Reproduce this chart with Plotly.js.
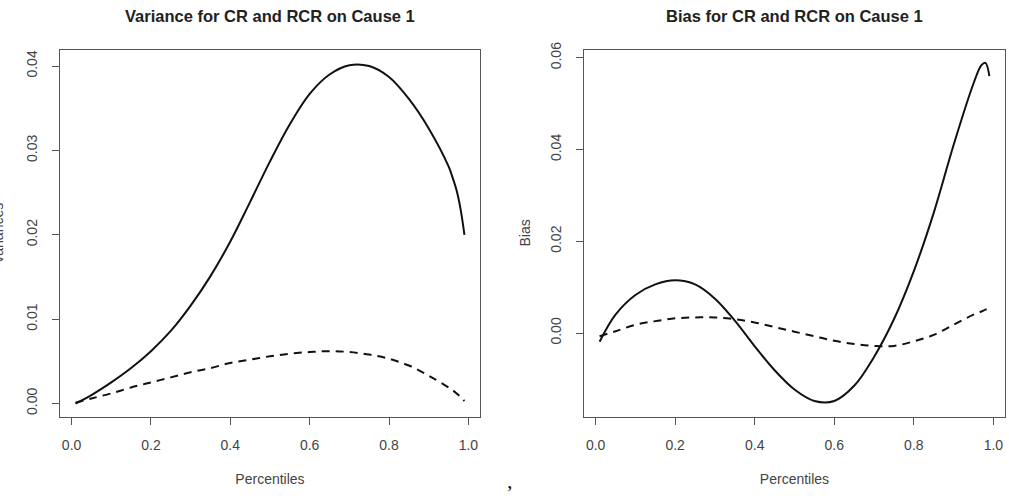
<!DOCTYPE html>
<html>
<head>
<meta charset="utf-8">
<script src="https://cdn.plot.ly/plotly-3.0.1.min.js"></script>
<style>html,body{margin:0;padding:0;background:#fff;}#chart{width:1009px;height:496px;}</style>
</head>
<body>
<div id="chart"></div>
<script>
// Variance panel
const varX   = [0.01,0.05,0.1,0.15,0.2,0.25,0.3,0.35,0.4,0.45,0.5,0.55,0.6,0.65,0.7,0.75,0.8,0.85,0.9,0.95,0.96,0.97,0.98,0.99];
const varCR  = [0.0000,0.0010,0.0025,0.0042,0.0062,0.0086,0.0116,0.0151,0.0192,0.0239,0.0287,0.0331,0.0367,0.0390,0.0401,0.0400,0.0387,0.0361,0.0326,0.0281,0.0268,0.0253,0.0231,0.0200];
const varRCR = [0.0001,0.0006,0.0012,0.0019,0.0025,0.0031,0.0037,0.0042,0.0048,0.0052,0.0056,0.0059,0.0061,0.0062,0.0061,0.0058,0.0053,0.0045,0.0033,0.0019,0.0016,0.0012,0.0008,0.0003];
// Bias panel
const biasX   = [0.01,0.05,0.1,0.15,0.2,0.25,0.3,0.35,0.4,0.45,0.5,0.55,0.6,0.65,0.7,0.75,0.8,0.85,0.9,0.95,0.97,0.98,0.99];
const biasCR  = [-0.0019,0.0040,0.0083,0.0106,0.0115,0.0106,0.0075,0.0027,-0.0029,-0.0081,-0.0123,-0.0148,-0.0148,-0.0115,-0.0052,0.0030,0.0135,0.0262,0.0410,0.0544,0.0584,0.0589,0.0560];
const biasRCR = [-0.0007,0.0004,0.0018,0.0026,0.0032,0.0034,0.0034,0.0030,0.0023,0.0013,0.0003,-0.0007,-0.0017,-0.0024,-0.0028,-0.0028,-0.0018,-0.0004,0.0018,0.0040,0.0047,0.0051,0.0054];

const xTickVals = [0,0.2,0.4,0.6,0.8,1.0];
const xTickText = ["0.0","0.2","0.4","0.6","0.8","1.0"];
const varTickVals = [0,0.01,0.02,0.03,0.04];
const varTickText = ["0.00","0.01","0.02","0.03","0.04"];
const biasTickVals = [0,0.02,0.04,0.06];
const biasTickText = ["0.00","0.02","0.04","0.06"];

const titles = ["Variance for CR and RCR on Cause 1","Bias for CR and RCR on Cause 1"];
const yTitles = ["Variances","Bias"];
const xTitle = "Percentiles";

const W = 1009, H = 496;
const FONT = '"Liberation Sans", Arial, Helvetica, sans-serif';
const solid = {color:'#111', width:2, shape:'spline', dash:'solid'};
const dashed = {color:'#111', width:2, shape:'spline', dash:'8px,6px'};

const traces = [
  {x:varX, y:varCR, mode:'lines', line:solid, xaxis:'x', yaxis:'y', name:'CR'},
  {x:varX, y:varRCR, mode:'lines', line:dashed, xaxis:'x', yaxis:'y', name:'RCR'},
  {x:biasX, y:biasCR, mode:'lines', line:solid, xaxis:'x2', yaxis:'y2', name:'CR'},
  {x:biasX, y:biasRCR, mode:'lines', line:dashed, xaxis:'x2', yaxis:'y2', name:'RCR'}
];

const yDom = [1-417/H, 1-50/H];
function xax(dom, anchor){
  return {domain:dom, anchor:anchor, range:[-0.0292,1.0292], tickvals:xTickVals, ticktext:xTickText,
    showline:true, mirror:true, linecolor:'#555', linewidth:1, ticks:'outside', ticklen:7, tickcolor:'#555',
    showgrid:false, zeroline:false, tickfont:{family:FONT,size:14,color:'#444'}, ticklabelstandoff:8,
    title:{text:xTitle, font:{family:FONT,size:14,color:'#444'}, standoff:22}};
}
function yax(anchor, range, tv, tt){
  return {domain:yDom, anchor:anchor, range:range, tickvals:tv, ticktext:tt, tickangle:-90,
    showline:true, mirror:true, linecolor:'#555', linewidth:1, ticks:'outside', ticklen:7, tickcolor:'#555',
    showgrid:false, zeroline:false, tickfont:{family:FONT,size:14,color:'#444'}, ticklabelstandoff:9};
}

const layout = {
  width:W, height:H, margin:{l:0,r:0,t:0,b:0}, showlegend:false,
  paper_bgcolor:'#fff', plot_bgcolor:'#fff',
  xaxis: xax([60/W, 480/W], 'y'),
  yaxis: yax('x', [-0.0016,0.0419], varTickVals, varTickText),
  xaxis2: xax([584/W, 1005/W], 'y2'),
  yaxis2: yax('x2', [-0.0183,0.0617], biasTickVals, biasTickText),
  annotations:[
    {text:'<b>'+titles[0]+'</b>', xref:'paper', yref:'paper', x:270/W, y:1-16/H, xanchor:'center', yanchor:'middle', showarrow:false, font:{family:FONT,size:16.5,color:'#222'}},
    {text:'<b>'+titles[1]+'</b>', xref:'paper', yref:'paper', x:794.5/W, y:1-16/H, xanchor:'center', yanchor:'middle', showarrow:false, font:{family:FONT,size:16.5,color:'#222'}},
    {text:yTitles[0], xref:'paper', yref:'paper', x:-1.5/W, y:1-233.5/H, xanchor:'center', yanchor:'middle', textangle:-90, showarrow:false, font:{family:FONT,size:14,color:'#444'}},
    {text:yTitles[1], xref:'paper', yref:'paper', x:525/W, y:1-233.5/H, xanchor:'center', yanchor:'middle', textangle:-90, showarrow:false, font:{family:FONT,size:14,color:'#444'}},
    {text:',', xref:'paper', yref:'paper', x:510/W, y:1-480/H, xanchor:'center', yanchor:'middle', showarrow:false, font:{family:'"Liberation Serif", "DejaVu Serif", serif',size:22,color:'#111'}}
  ]
};

Plotly.newPlot('chart', traces, layout, {staticPlot:true, displayModeBar:false});
</script>
</body>
</html>
